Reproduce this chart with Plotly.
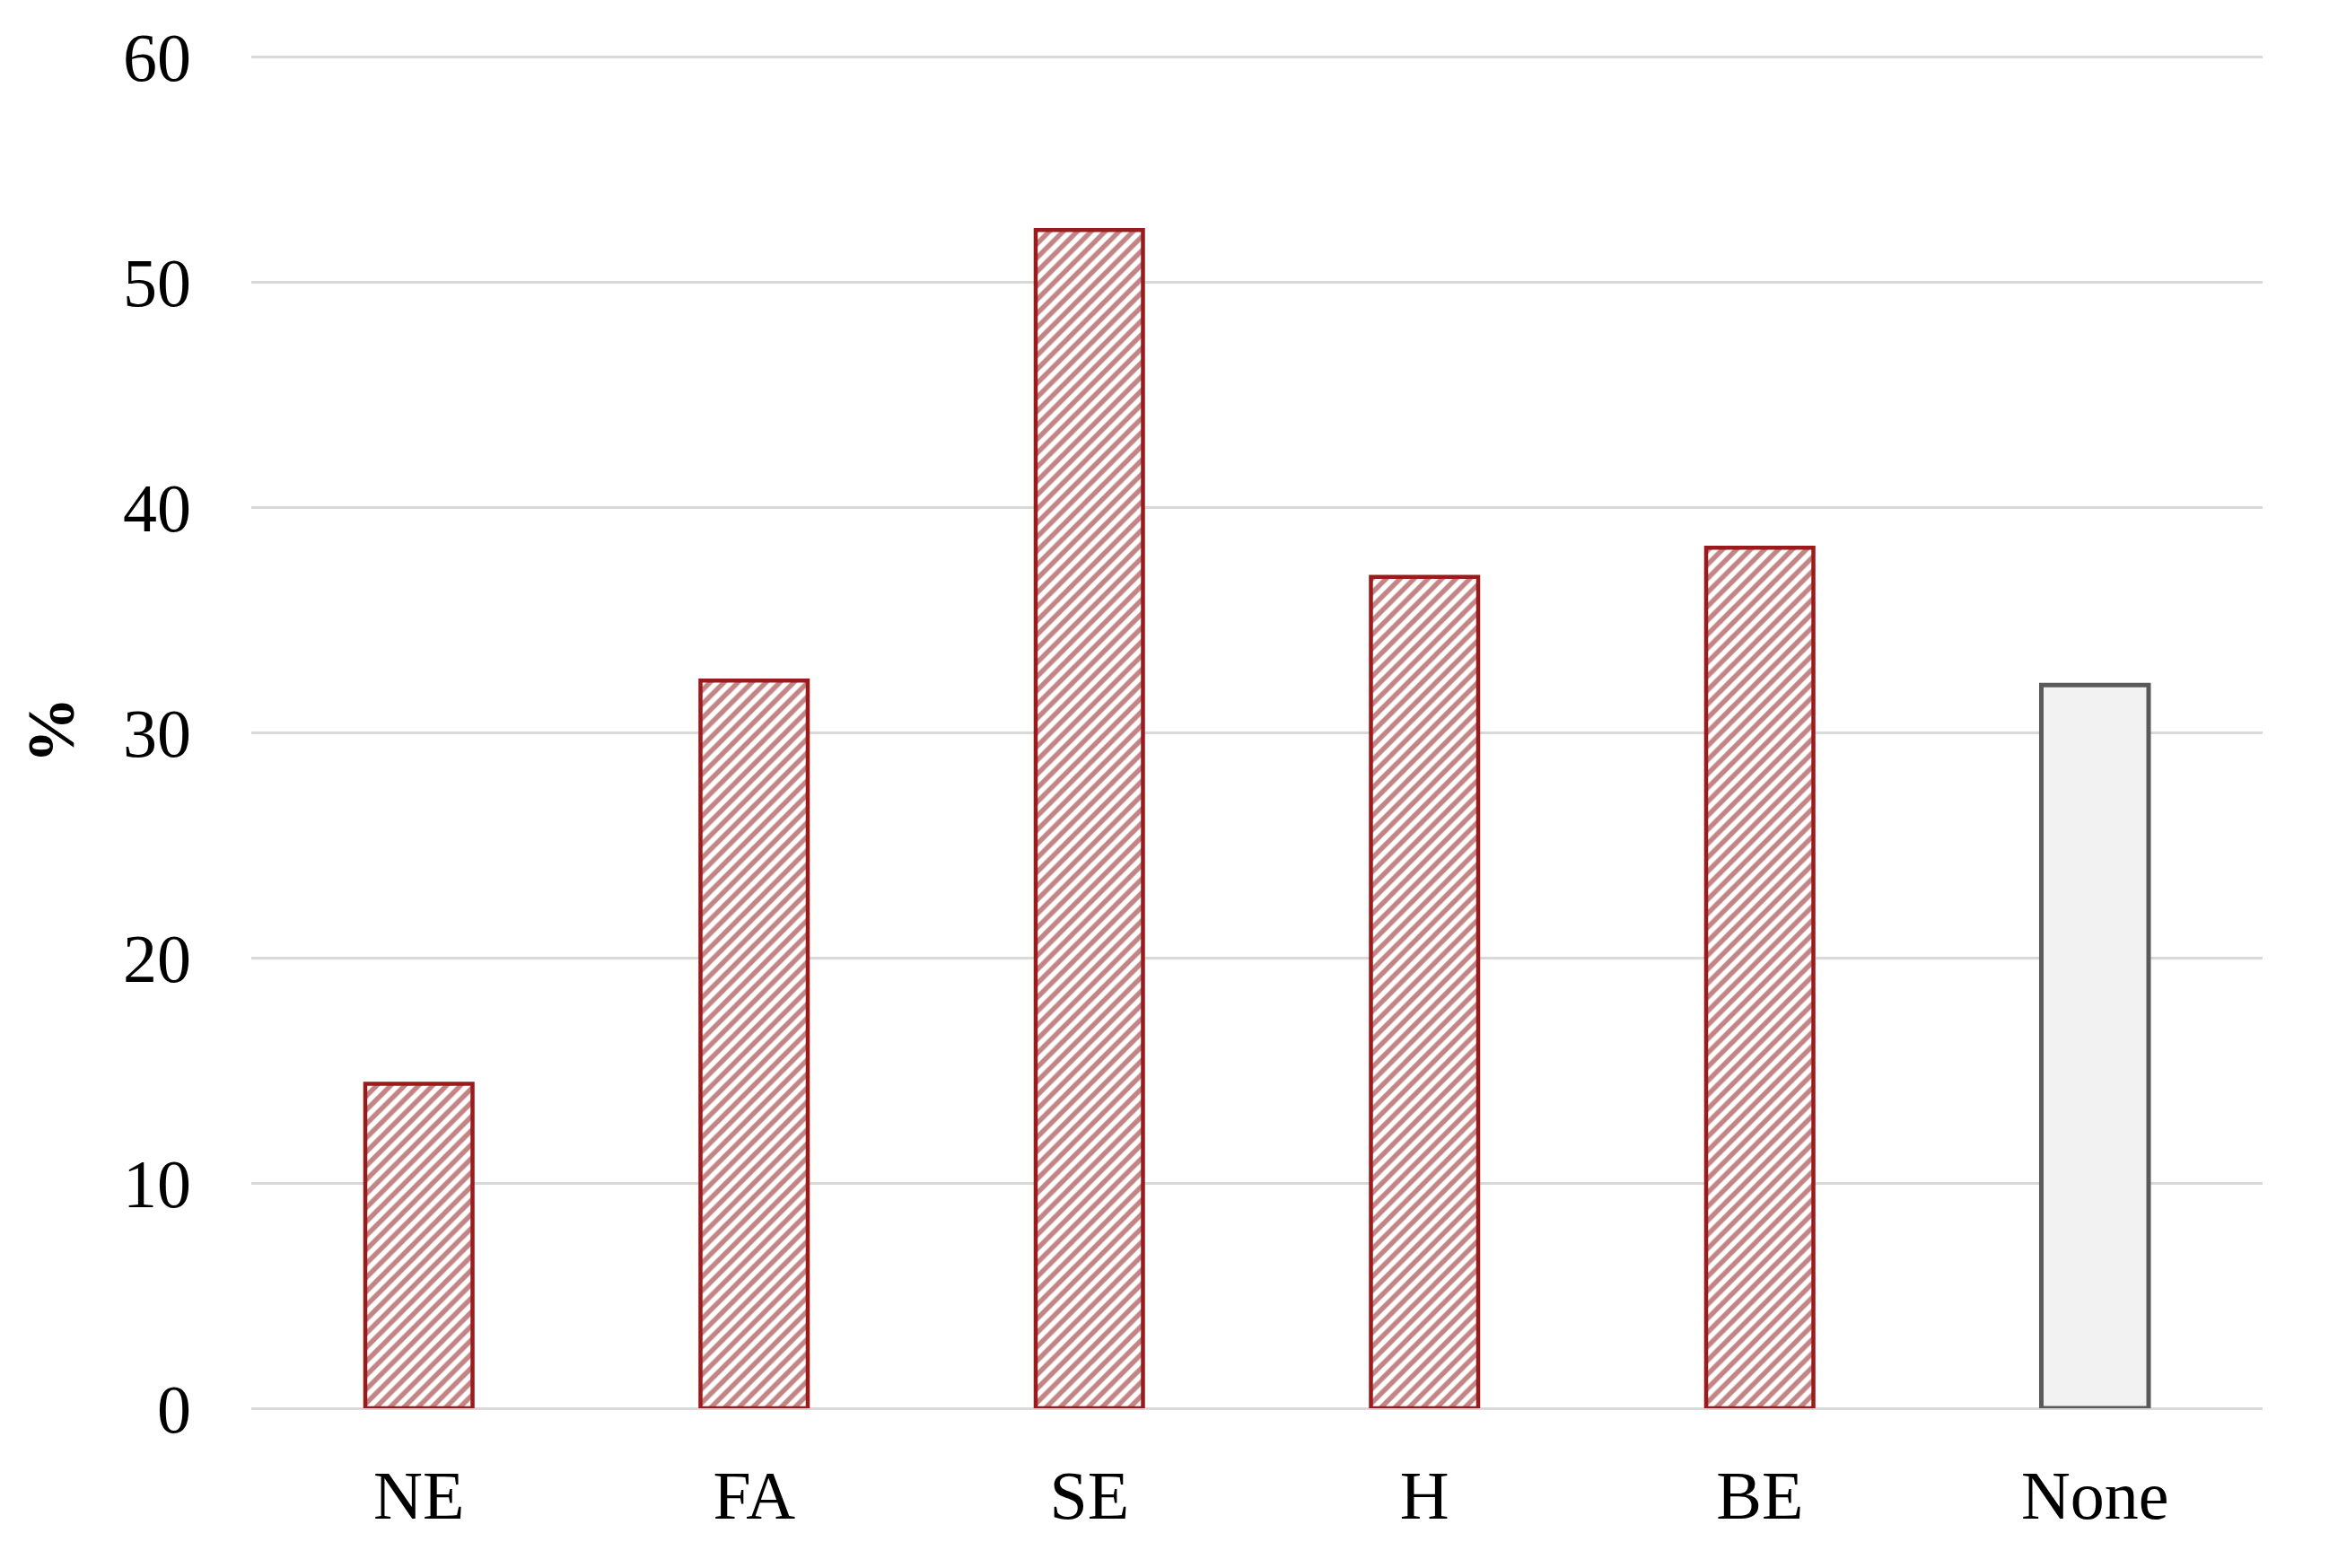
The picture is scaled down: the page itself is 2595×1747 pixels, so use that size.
import plotly.graph_objects as go

categories = ["NE", "FA", "SE", "H", "BE", "None"]
values = [14.4, 32.3, 52.3, 36.9, 38.2, 32.1]

RED = "#9A1B1B"
HATCH = "#860A0A"
GREY_EDGE = "#5A5A5A"
FONT = "Liberation Serif"

fig = go.Figure()

# hatched bars (all but the last)
fig.add_trace(go.Bar(
    x=categories[:-1], y=values[:-1],
    marker=dict(
        color="white",
        line=dict(color=RED, width=4.5),
        pattern=dict(shape="/", fgcolor=HATCH, bgcolor="white", size=11, solidity=0.5),
    ),
    showlegend=False,
))

# plain grey bar for "None"
fig.add_trace(go.Bar(
    x=categories[-1:], y=values[-1:],
    marker=dict(color="#F2F2F2", line=dict(color=GREY_EDGE, width=5)),
    showlegend=False,
))

fig.update_layout(
    width=2595, height=1747,
    autosize=False,
    barmode="overlay",
    bargap=0.68,
    plot_bgcolor="white",
    paper_bgcolor="white",
    margin=dict(l=272, r=82, t=50, b=186),
    font=dict(family=FONT, size=76, color="black"),
)

fig.update_xaxes(
    categoryorder="array", categoryarray=categories,
    showgrid=False, showline=False, ticks="",
    ticklabelstandoff=46,
    tickfont=dict(size=76),
)

fig.update_yaxes(
    range=[0, 60.2], tickvals=[0, 10, 20, 30, 40, 50, 60],
    showgrid=True, gridcolor="#D9D9D9", gridwidth=3,
    zeroline=True, zerolinecolor="#D9D9D9", zerolinewidth=3,
    showline=False, ticks="",
    ticklabelstandoff=66,
    tickfont=dict(size=76),
    title=dict(text="<b>%</b>", font=dict(size=74), standoff=30),
)

fig.write_html("out.html")
